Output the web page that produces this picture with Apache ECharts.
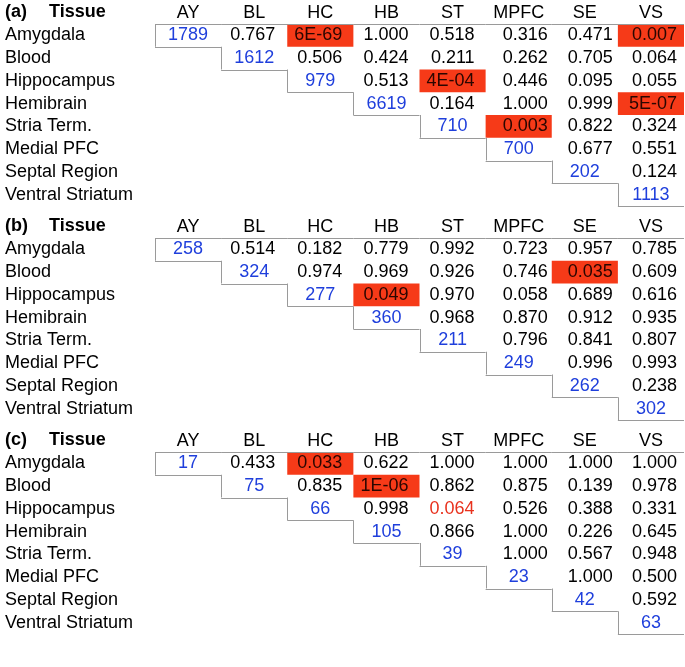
<!DOCTYPE html>
<html><head><meta charset="utf-8">
<script src="https://cdn.jsdelivr.net/npm/echarts/dist/echarts.min.js"></script>
<style>html,body{margin:0;padding:0;background:#fff}#c{width:685px;height:667px}</style>
</head><body><div id="c"></div>
<script>
// ---------- data ----------
const tissues = ['Amygdala', 'Blood', 'Hippocampus', 'Hemibrain', 'Stria Term.', 'Medial PFC', 'Septal Region', 'Ventral Striatum'];
const codes = ['AY', 'BL', 'HC', 'HB', 'ST', 'MPFC', 'SE', 'VS'];
const panelLabels = ['(a)', '(b)', '(c)'];
const headerLabel = 'Tissue';

const diagA = [1789, 1612, 979, 6619, 710, 700, 202, 1113];
const pvalA = [
  ['0.767', '6E-69', '1.000', '0.518', '0.316', '0.471', '0.007'],
  ['0.506', '0.424', '0.211', '0.262', '0.705', '0.064'],
  ['0.513', '4E-04', '0.446', '0.095', '0.055'],
  ['0.164', '1.000', '0.999', '5E-07'],
  ['0.003', '0.822', '0.324'],
  ['0.677', '0.551'],
  ['0.124'],
  []
];
const diagB = [258, 324, 277, 360, 211, 249, 262, 302];
const pvalB = [
  ['0.514', '0.182', '0.779', '0.992', '0.723', '0.957', '0.785'],
  ['0.974', '0.969', '0.926', '0.746', '0.035', '0.609'],
  ['0.049', '0.970', '0.058', '0.689', '0.616'],
  ['0.968', '0.870', '0.912', '0.935'],
  ['0.796', '0.841', '0.807'],
  ['0.996', '0.993'],
  ['0.238'],
  []
];
const diagC = [17, 75, 66, 105, 39, 23, 42, 63];
const pvalC = [
  ['0.433', '0.033', '0.622', '1.000', '1.000', '1.000', '1.000'],
  ['0.835', '1E-06', '0.862', '0.875', '0.139', '0.978'],
  ['0.998', '0.064', '0.526', '0.388', '0.331'],
  ['0.866', '1.000', '0.226', '0.645'],
  ['1.000', '0.567', '0.948'],
  ['1.000', '0.500'],
  ['0.592'],
  []
];
const significance = 0.05;          // cells below this get a red background
const trendCellsA = [];
const trendCellsB = [];
const trendCellsC = [[2, 4]];       // [row, col] shown in red text

// ---------- style / layout ----------
const FONT = 'Liberation Sans, Arial, Helvetica, sans-serif';
const FS = 18;
const BLUE = '#1f3fdc';
const RED_BG = '#f63a18';
const RED_TXT = '#e8321e';
const LINE = '#9a9a9a';
const GRID_LEFT = 155, GRID_W = 529, GRID_H = 182;
const GRID_TOPS = [24, 238, 452];
const PAD_R = 8;
const VALUE_NUDGE = [0, -4, -3, -3, -3, 4, 3, 1];   // per-column label offset (px)

const panels = [
  {diag: diagA, pval: pvalA, trend: trendCellsA},
  {diag: diagB, pval: pvalB, trend: trendCellsB},
  {diag: diagC, pval: pvalC, trend: trendCellsC}
];

const chart = echarts.init(document.getElementById('c'), null, {renderer: 'canvas'});

const grids = [], xAxes = [], yAxes = [], series = [], graphics = [];

panels.forEach((p, pi) => {
  grids.push({left: GRID_LEFT, top: GRID_TOPS[pi], width: GRID_W, height: GRID_H, containLabel: false});
  xAxes.push({
    type: 'category', gridIndex: pi, data: codes, position: 'top',
    axisLine: {show: false}, axisTick: {show: false}, splitLine: {show: false},
    axisLabel: {fontFamily: FONT, fontSize: FS, color: '#000', margin: 2, interval: 0}
  });
  yAxes.push({
    type: 'category', gridIndex: pi, data: tissues, inverse: true,
    axisLine: {show: false}, axisTick: {show: false}, splitLine: {show: false},
    axisLabel: {fontFamily: FONT, fontSize: FS, color: '#000', align: 'left', margin: GRID_LEFT - 5, interval: 0}
  });

  const cells = [];
  for (let r = 0; r < codes.length; r++) {
    cells.push({row: r, col: r, text: String(p.diag[r]), diag: true});
    p.pval[r].forEach((t, k) => {
      const c = r + 1 + k;
      const isTrend = p.trend.some(q => q[0] === r && q[1] === c);
      cells.push({row: r, col: c, text: t, diag: false, sig: parseFloat(t) < significance, trend: isTrend});
    });
  }

  series.push({
    type: 'custom', xAxisIndex: pi, yAxisIndex: pi,
    data: cells.map(c => [c.col, c.row]),
    renderItem: function (params, api) {
      const cell = cells[params.dataIndex];
      const ctr = api.coord([api.value(0), api.value(1)]);
      const sz = api.size([1, 1]);
      const w = sz[0], h = sz[1];
      const x0 = ctr[0] - w / 2, x1 = ctr[0] + w / 2;
      const y0 = ctr[1] - h / 2, y1 = ctr[1] + h / 2;
      const px = v => Math.round(v) + 0.5;
      const children = [];
      if (cell.sig) {
        children.push({type: 'rect', shape: {x: x0, y: y0, width: w, height: h}, style: {fill: RED_BG}});
      }
      let fill = '#000';
      if (cell.diag) fill = BLUE; else if (cell.sig) fill = '#2a0600'; else if (cell.trend) fill = RED_TXT;
      children.push({
        type: 'text',
        style: {
          text: cell.text,
          x: cell.diag ? ctr[0] : x1 - PAD_R + VALUE_NUDGE[cell.col],
          y: ctr[1],
          align: cell.diag ? 'center' : 'right',
          verticalAlign: 'middle',
          font: FS + 'px ' + FONT,
          fill: fill
        }
      });
      const ls = {stroke: LINE, lineWidth: 1};
      if (cell.row === 0) {
        children.push({type: 'line', shape: {x1: x0, y1: px(y0), x2: x1, y2: px(y0)}, style: ls});
      }
      if (cell.diag) {
        children.push({type: 'line', shape: {x1: px(x0), y1: y0, x2: px(x0), y2: y1}, style: ls});
        children.push({type: 'line', shape: {x1: x0, y1: px(y1), x2: x1, y2: px(y1)}, style: ls});
      }
      return {type: 'group', children: children};
    }
  });

  const hy = GRID_TOPS[pi] - 12;
  graphics.push({type: 'text', left: 5, top: hy - 9, style: {text: panelLabels[pi], font: 'bold ' + FS + 'px ' + FONT, fill: '#000'}});
  graphics.push({type: 'text', left: 49, top: hy - 9, style: {text: headerLabel, font: 'bold ' + FS + 'px ' + FONT, fill: '#000'}});
});

chart.setOption({
  animation: false,
  backgroundColor: '#fff',
  grid: grids,
  xAxis: xAxes,
  yAxis: yAxes,
  series: series,
  graphic: graphics
});
</script>
</body></html>
